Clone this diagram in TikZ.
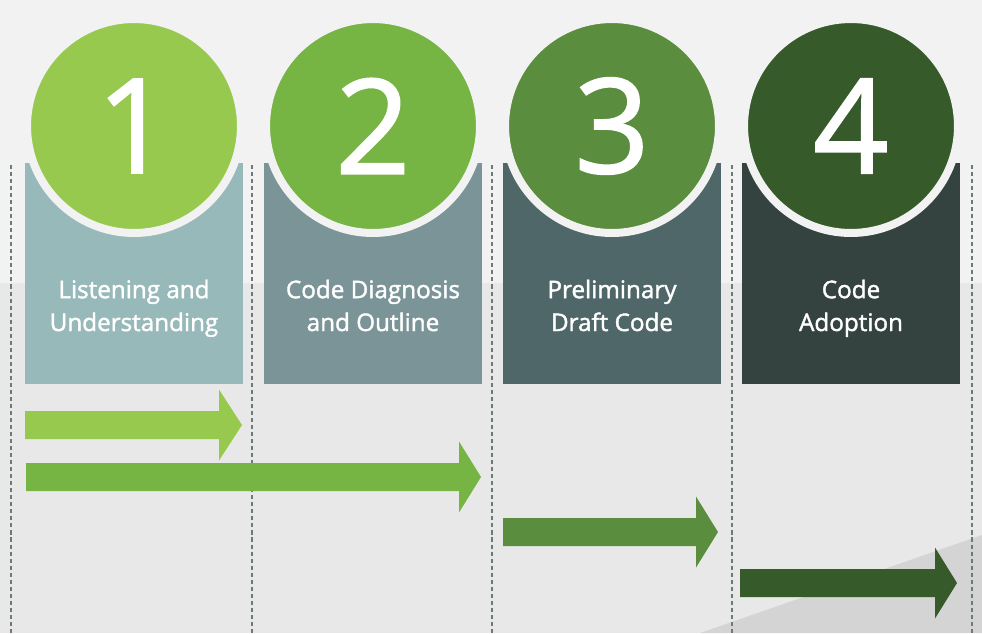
\documentclass[tikz,border=0pt]{standalone}
\usepackage{fontspec}
\setmainfont{Open Sans}
\newfontfamily\labelfont{Open Sans}[FakeBold=1.6]
\newfontfamily\digitfont{Open Sans}[FakeBold=1.3]
\definecolor{bgtop}{HTML}{F2F2F3}
\definecolor{bglow}{HTML}{E8E8E8}
\definecolor{bgdiag}{HTML}{D4D4D4}
\definecolor{gridline}{HTML}{6C7A7A}
\definecolor{greenA}{HTML}{97C94E}
\definecolor{greenB}{HTML}{76B443}
\definecolor{greenC}{HTML}{5A8D3E}
\definecolor{greenD}{HTML}{375A2B}
\definecolor{slateA}{HTML}{98B9BA}
\definecolor{slateB}{HTML}{7B9497}
\definecolor{slateC}{HTML}{506769}
\definecolor{slateD}{HTML}{344240}
\tikzset{
  stagebox/.style={rectangle, inner sep=0pt, minimum width=4.36cm, minimum height=4.42cm},
  badge/.style={circle, inner sep=0pt, minimum size=4.28cm, draw=bgtop, line width=0.16cm,
    text=white, font=\digitfont\fontsize{75}{75}\selectfont},
  stagelabel/.style={text=white, align=center, inner sep=0pt,
    font=\labelfont\fontsize{13.8}{18.7}\selectfont},
  divider/.style={gridline, line width=0.6pt, dash pattern=on 2.3pt off 1.7pt}
}
% bar with an arrow head: fill, x start, x of head, x of tip, y of axis
\newcommand\stagearrow[5]{%
  \fill[#1] (#2,#5-14) -- (#3,#5-14) -- (#3,#5-35.5) -- (#4,#5)
    -- (#3,#5+35.5) -- (#3,#5+14) -- (#2,#5+14) -- cycle;}
\begin{document}
\begin{tikzpicture}[x=0.02cm, y=-0.02cm]
  \useasboundingbox (0,0) rectangle (982,633);
  \fill[bgtop] (0,0) rectangle (982,283);
  \fill[bglow] (0,283) rectangle (982,633);
  \fill[bgdiag] (700,633) -- (982,535) -- (982,633) -- cycle;

  \foreach \x in {11,252,492,732,972}
    \draw[divider] (\x,165) -- (\x,633);

  \node[stagebox, fill=slateA] (box1) at (134,273.5) {};
  \node[stagebox, fill=slateB] (box2) at (373,273.5) {};
  \node[stagebox, fill=slateC] (box3) at (612,273.5) {};
  \node[stagebox, fill=slateD] (box4) at (851,273.5) {};

  \node[badge, fill=greenA] (num1) at (134,126) {1};
  \node[badge, fill=greenB] (num2) at (373,126) {2};
  \node[badge, fill=greenC] (num3) at (612,126) {3};
  \node[badge, fill=greenD] (num4) at (851,126) {4};

  \node[stagelabel] (lab1) at (134,308) {\strut Listening and\\Understanding\strut};
  \node[stagelabel] (lab2) at (373,308) {\strut Code Diagnosis\\and Outline\strut};
  \node[stagelabel] (lab3) at (612,308) {\strut Preliminary\\Draft Code\strut};
  \node[stagelabel] (lab4) at (851,308) {\strut Code\\Adoption\strut};

  \stagearrow{greenA}{25}{219}{242}{425}
  \stagearrow{greenB}{26}{459}{481}{477}
  \stagearrow{greenC}{503}{696}{718}{532}
  \stagearrow{greenD}{740}{935}{957}{583}
\end{tikzpicture}
\end{document}
